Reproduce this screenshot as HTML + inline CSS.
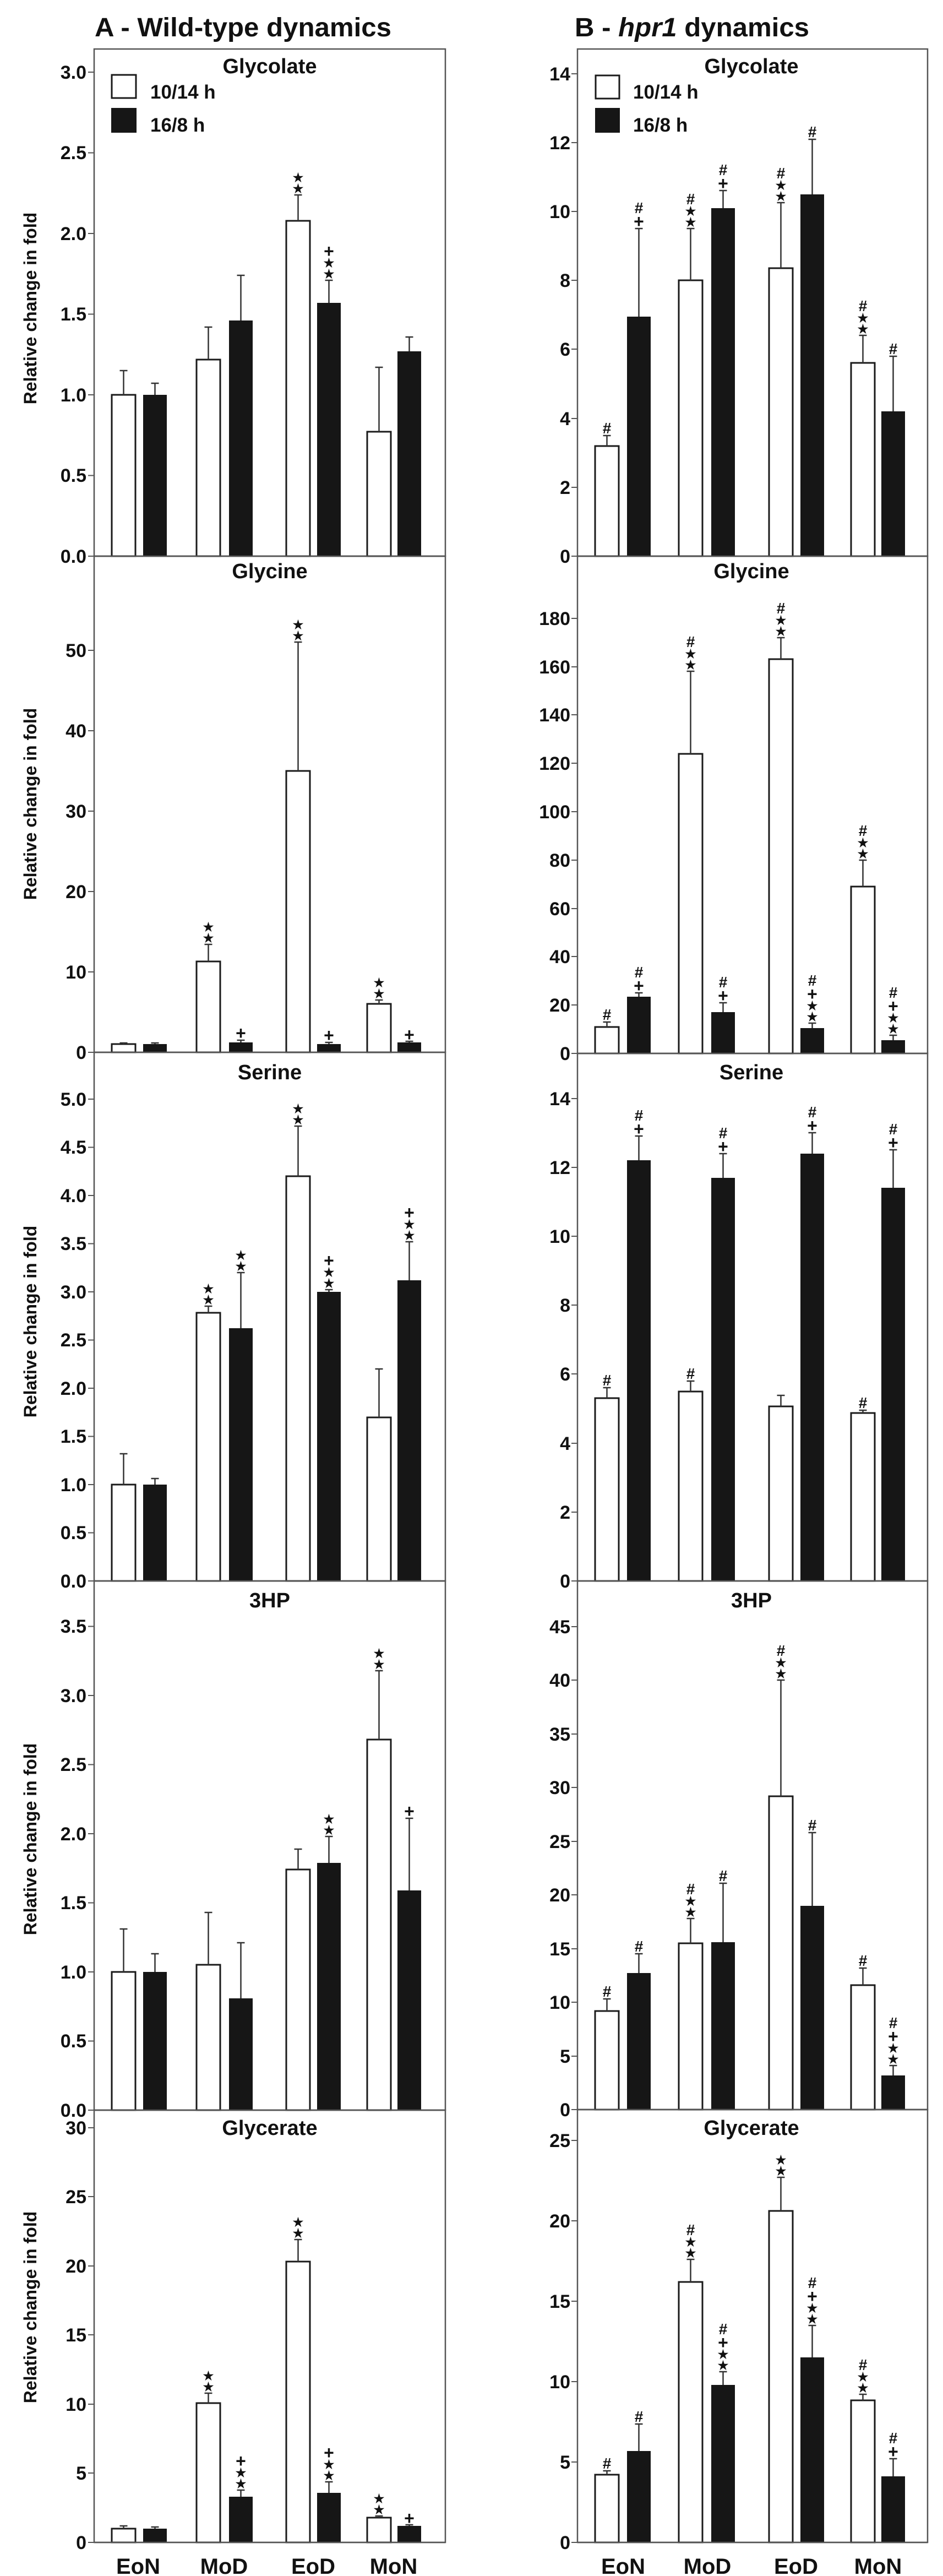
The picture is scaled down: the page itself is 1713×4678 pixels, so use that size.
<!DOCTYPE html>
<html><head><meta charset="utf-8"><style>
html,body{margin:0;padding:0;background:#fff}
svg{display:block}
.w{fill:#fff;stroke:#1a1a1a;stroke-width:3}
.b{fill:#161616}
.e{stroke:#333;stroke-width:2.5;fill:none}
.f{fill:none;stroke:#555;stroke-width:2.5}
.t{stroke:#555;stroke-width:2}
text{font-family:"Liberation Sans",Arial,sans-serif;font-weight:bold;fill:#111}
.tl{font-size:34px;text-anchor:end}
.pt{font-size:38px;text-anchor:middle}
.s{font-family:"DejaVu Sans",sans-serif;font-size:22px;text-anchor:middle;font-weight:normal}
.p{font-size:32px;text-anchor:middle}
.h{font-size:28px;text-anchor:middle}
.yl{font-size:32px;text-anchor:middle}
.xl{font-size:40px;text-anchor:middle}
</style></head><body>
<svg width="1713" height="4678" viewBox="0 0 1713 4678" xmlns="http://www.w3.org/2000/svg">
<rect width="1713" height="4678" fill="#fff"/>
<!-- titles -->
<text x="172" y="66" font-size="48" textLength="539" lengthAdjust="spacingAndGlyphs">A - Wild-type dynamics</text>
<text x="1044" y="66" font-size="48" textLength="426" lengthAdjust="spacingAndGlyphs">B - <tspan font-style="italic">hpr1</tspan> dynamics</text>

<!-- frames -->
<g class="f">
<rect x="171" y="89" width="638" height="921"/>
<rect x="171" y="1010" width="638" height="901"/>
<rect x="171" y="1911" width="638" height="960"/>
<rect x="171" y="2871" width="638" height="961"/>
<rect x="171" y="3832" width="638" height="785"/>
<rect x="1049" y="89" width="636" height="921"/>
<rect x="1049" y="1010" width="636" height="903"/>
<rect x="1049" y="1913" width="636" height="958"/>
<rect x="1049" y="2871" width="636" height="960"/>
<rect x="1049" y="3831" width="636" height="786"/>
</g>

<!-- y labels -->
<g class="yl">
<text transform="translate(66,560) rotate(-90)">Relative change in fold</text>
<text transform="translate(66,1460) rotate(-90)">Relative change in fold</text>
<text transform="translate(66,2400) rotate(-90)">Relative change in fold</text>
<text transform="translate(66,3340) rotate(-90)">Relative change in fold</text>
<text transform="translate(66,4190) rotate(-90)">Relative change in fold</text>
</g>

<!-- panel titles -->
<g class="pt">
<text x="490" y="133">Glycolate</text>
<text x="1365" y="133">Glycolate</text>
<text x="490" y="1050">Glycine</text>
<text x="1365" y="1050">Glycine</text>
<text x="490" y="1960">Serine</text>
<text x="1365" y="1960">Serine</text>
<text x="490" y="2919">3HP</text>
<text x="1365" y="2919">3HP</text>
<text x="490" y="3877">Glycerate</text>
<text x="1365" y="3877">Glycerate</text>
</g>

<!-- legends -->
<rect x="203" y="136" width="44" height="42" class="w"/>
<rect x="202" y="196" width="46" height="45" class="b"/>
<text x="273" y="179" font-size="35">10/14 h</text>
<text x="273" y="239" font-size="35">16/8 h</text>
<rect x="1082" y="137" width="43" height="42" class="w"/>
<rect x="1081" y="196" width="45" height="45" class="b"/>
<text x="1150" y="179" font-size="35">10/14 h</text>
<text x="1150" y="239" font-size="35">16/8 h</text>

<!-- ticks left -->
<g class="t">
<path d="M160,1010H171M160,863.5H171M160,717H171M160,570.5H171M160,424H171M160,277.5H171M160,131H171"/>
<path d="M160,1911H171M160,1765H171M160,1619H171M160,1473H171M160,1327H171M160,1181H171"/>
<path d="M160,2871H171M160,2783.5H171M160,2696H171M160,2608.5H171M160,2521H171M160,2433.5H171M160,2346H171M160,2258.5H171M160,2171H171M160,2083.5H171M160,1996H171"/>
<path d="M160,3832H171M160,3706.5H171M160,3581H171M160,3455.5H171M160,3330H171M160,3204.5H171M160,3079H171M160,2953.5H171"/>
<path d="M160,4617H171M160,4491H171M160,4366H171M160,4240H171M160,4115H171M160,3989H171M160,3864H171"/>
<path d="M1038,1010H1049M1038,885H1049M1038,760H1049M1038,634H1049M1038,509H1049M1038,384H1049M1038,259H1049M1038,134H1049"/>
<path d="M1038,1913H1049M1038,1825H1049M1038,1737H1049M1038,1650H1049M1038,1562H1049M1038,1474H1049M1038,1386H1049M1038,1298H1049M1038,1211H1049M1038,1123H1049"/>
<path d="M1038,2871H1049M1038,2746H1049M1038,2621H1049M1038,2495H1049M1038,2370H1049M1038,2245H1049M1038,2120H1049M1038,1995H1049"/>
<path d="M1038,3831H1049M1038,3734H1049M1038,3636H1049M1038,3539H1049M1038,3441H1049M1038,3344H1049M1038,3246H1049M1038,3149H1049M1038,3051H1049M1038,2954H1049"/>
<path d="M1038,4617H1049M1038,4471H1049M1038,4325H1049M1038,4179H1049M1038,4033H1049M1038,3887H1049"/>
</g>

<!-- tick labels left -->
<g class="tl">
<text x="157" y="1022">0.0</text><text x="157" y="875">0.5</text><text x="157" y="729">1.0</text><text x="157" y="582">1.5</text><text x="157" y="436">2.0</text><text x="157" y="289">2.5</text><text x="157" y="143">3.0</text>
<text x="157" y="1923">0</text><text x="157" y="1777">10</text><text x="157" y="1631">20</text><text x="157" y="1485">30</text><text x="157" y="1339">40</text><text x="157" y="1193">50</text>
<text x="157" y="2883">0.0</text><text x="157" y="2795">0.5</text><text x="157" y="2708">1.0</text><text x="157" y="2620">1.5</text><text x="157" y="2533">2.0</text><text x="157" y="2445">2.5</text><text x="157" y="2358">3.0</text><text x="157" y="2270">3.5</text><text x="157" y="2183">4.0</text><text x="157" y="2095">4.5</text><text x="157" y="2008">5.0</text>
<text x="157" y="3844">0.0</text><text x="157" y="3718">0.5</text><text x="157" y="3593">1.0</text><text x="157" y="3467">1.5</text><text x="157" y="3342">2.0</text><text x="157" y="3216">2.5</text><text x="157" y="3091">3.0</text><text x="157" y="2965">3.5</text>
<text x="157" y="4629">0</text><text x="157" y="4503">5</text><text x="157" y="4378">10</text><text x="157" y="4252">15</text><text x="157" y="4127">20</text><text x="157" y="4001">25</text><text x="157" y="3876">30</text>
<!-- right -->
<text x="1036" y="1022">0</text><text x="1036" y="897">2</text><text x="1036" y="772">4</text><text x="1036" y="646">6</text><text x="1036" y="521">8</text><text x="1036" y="396">10</text><text x="1036" y="271">12</text><text x="1036" y="146">14</text>
<text x="1036" y="1925">0</text><text x="1036" y="1837">20</text><text x="1036" y="1749">40</text><text x="1036" y="1662">60</text><text x="1036" y="1574">80</text><text x="1036" y="1486">100</text><text x="1036" y="1398">120</text><text x="1036" y="1310">140</text><text x="1036" y="1223">160</text><text x="1036" y="1135">180</text>
<text x="1036" y="2883">0</text><text x="1036" y="2758">2</text><text x="1036" y="2633">4</text><text x="1036" y="2507">6</text><text x="1036" y="2382">8</text><text x="1036" y="2257">10</text><text x="1036" y="2132">12</text><text x="1036" y="2007">14</text>
<text x="1036" y="3843">0</text><text x="1036" y="3746">5</text><text x="1036" y="3648">10</text><text x="1036" y="3551">15</text><text x="1036" y="3453">20</text><text x="1036" y="3356">25</text><text x="1036" y="3258">30</text><text x="1036" y="3161">35</text><text x="1036" y="3063">40</text><text x="1036" y="2966">45</text>
<text x="1036" y="4629">0</text><text x="1036" y="4483">5</text><text x="1036" y="4337">10</text><text x="1036" y="4191">15</text><text x="1036" y="4045">20</text><text x="1036" y="3899">25</text>
</g>

<!-- ===== GLYCOLATE LEFT (y0 1010) ===== -->
<rect class="w" x="203" y="717" width="43" height="293"/>
<rect class="b" x="260" y="717" width="43" height="293"/>
<rect class="w" x="357" y="653" width="43" height="357"/>
<rect class="b" x="416" y="582" width="43" height="428"/>
<rect class="w" x="520" y="401" width="43" height="609"/>
<rect class="b" x="576" y="550" width="43" height="460"/>
<rect class="w" x="667" y="784" width="43" height="226"/>
<rect class="b" x="722" y="638" width="43" height="372"/>
<path class="e" d="M224.5,717V673M217.5,673H231.5 M281.5,717V696M274.5,696H288.5 M378.5,653V594M371.5,594H385.5 M437.5,582V500M430.5,500H444.5 M541.5,401V354M534.5,354H548.5 M597.5,550V509M590.5,509H604.5 M688.5,784V667M681.5,667H695.5 M743.5,638V612M736.5,612H750.5"/>

<!-- ===== GLYCOLATE RIGHT ===== -->
<rect class="w" x="1081" y="810" width="43" height="200"/>
<rect class="b" x="1139" y="575" width="43" height="435"/>
<rect class="w" x="1233" y="509" width="43" height="501"/>
<rect class="b" x="1292" y="378" width="43" height="632"/>
<rect class="w" x="1397" y="487" width="43" height="523"/>
<rect class="b" x="1454" y="353" width="43" height="657"/>
<rect class="w" x="1546" y="659" width="43" height="351"/>
<rect class="b" x="1601" y="747" width="43" height="263"/>
<path class="e" d="M1102.5,810V791M1095.5,791H1109.5 M1160.5,575V415M1153.5,415H1167.5 M1254.5,509V415M1247.5,415H1261.5 M1313.5,378V346M1306.5,346H1320.5 M1418.5,487V368M1411.5,368H1425.5 M1475.5,353V253M1468.5,253H1482.5 M1567.5,659V609M1560.5,609H1574.5 M1622.5,747V647M1615.5,647H1629.5"/>

<!-- ===== GLYCINE LEFT (y0 1911) ===== -->
<rect class="w" x="203" y="1896" width="43" height="15"/>
<rect class="b" x="260" y="1896" width="43" height="15"/>
<rect class="w" x="357" y="1746" width="43" height="165"/>
<rect class="b" x="416" y="1893" width="43" height="18"/>
<rect class="w" x="520" y="1400" width="43" height="511"/>
<rect class="b" x="576" y="1896" width="43" height="15"/>
<rect class="w" x="667" y="1823" width="43" height="88"/>
<rect class="b" x="722" y="1893" width="43" height="18"/>
<path class="e" d="M224.5,1896V1894M217.5,1894H231.5 M281.5,1896V1894M274.5,1894H288.5 M378.5,1746V1715M371.5,1715H385.5 M437.5,1893V1889M430.5,1889H444.5 M541.5,1400V1166M534.5,1166H548.5 M597.5,1896V1893M590.5,1893H604.5 M688.5,1823V1816M681.5,1816H695.5 M743.5,1893V1891M736.5,1891H750.5"/>

<!-- ===== GLYCINE RIGHT (y0 1913) ===== -->
<rect class="w" x="1081" y="1865" width="43" height="48"/>
<rect class="b" x="1139" y="1810" width="43" height="103"/>
<rect class="w" x="1233" y="1369" width="43" height="544"/>
<rect class="b" x="1292" y="1838" width="43" height="75"/>
<rect class="w" x="1397" y="1197" width="43" height="716"/>
<rect class="b" x="1454" y="1867" width="43" height="46"/>
<rect class="w" x="1546" y="1610" width="43" height="303"/>
<rect class="b" x="1601" y="1889" width="43" height="24"/>
<path class="e" d="M1102.5,1865V1856M1095.5,1856H1109.5 M1160.5,1810V1803M1153.5,1803H1167.5 M1254.5,1369V1219M1247.5,1219H1261.5 M1313.5,1838V1821M1306.5,1821H1320.5 M1418.5,1197V1158M1411.5,1158H1425.5 M1475.5,1867V1858M1468.5,1858H1482.5 M1567.5,1610V1562M1560.5,1562H1574.5 M1622.5,1889V1880M1615.5,1880H1629.5"/>

<!-- ===== SERINE LEFT (y0 2871) ===== -->
<rect class="w" x="203" y="2696" width="43" height="175"/>
<rect class="b" x="260" y="2696" width="43" height="175"/>
<rect class="w" x="357" y="2384" width="43" height="487"/>
<rect class="b" x="416" y="2412" width="43" height="459"/>
<rect class="w" x="520" y="2136" width="43" height="735"/>
<rect class="b" x="576" y="2346" width="43" height="525"/>
<rect class="w" x="667" y="2574" width="43" height="297"/>
<rect class="b" x="722" y="2325" width="43" height="546"/>
<path class="e" d="M224.5,2696V2640M217.5,2640H231.5 M281.5,2696V2685M274.5,2685H288.5 M378.5,2384V2372M371.5,2372H385.5 M437.5,2412V2311M430.5,2311H444.5 M541.5,2136V2045M534.5,2045H548.5 M597.5,2346V2342M590.5,2342H604.5 M688.5,2574V2486M681.5,2486H695.5 M743.5,2325V2255M736.5,2255H750.5"/>

<!-- ===== SERINE RIGHT ===== -->
<rect class="w" x="1081" y="2539" width="43" height="332"/>
<rect class="b" x="1139" y="2107" width="43" height="764"/>
<rect class="w" x="1233" y="2527" width="43" height="344"/>
<rect class="b" x="1292" y="2139" width="43" height="732"/>
<rect class="w" x="1397" y="2554" width="43" height="317"/>
<rect class="b" x="1454" y="2095" width="43" height="776"/>
<rect class="w" x="1546" y="2566" width="43" height="305"/>
<rect class="b" x="1601" y="2157" width="43" height="714"/>
<path class="e" d="M1102.5,2539V2520M1095.5,2520H1109.5 M1160.5,2107V2063M1153.5,2063H1167.5 M1254.5,2527V2508M1247.5,2508H1261.5 M1313.5,2139V2095M1306.5,2095H1320.5 M1418.5,2554V2534M1411.5,2534H1425.5 M1475.5,2095V2057M1468.5,2057H1482.5 M1567.5,2566V2561M1560.5,2561H1574.5 M1622.5,2157V2088M1615.5,2088H1629.5"/>

<!-- ===== 3HP LEFT (y0 3832) ===== -->
<rect class="w" x="203" y="3581" width="43" height="251"/>
<rect class="b" x="260" y="3581" width="43" height="251"/>
<rect class="w" x="357" y="3568" width="43" height="264"/>
<rect class="b" x="416" y="3629" width="43" height="203"/>
<rect class="w" x="520" y="3395" width="43" height="437"/>
<rect class="b" x="576" y="3383" width="43" height="449"/>
<rect class="w" x="667" y="3159" width="43" height="673"/>
<rect class="b" x="722" y="3433" width="43" height="399"/>
<path class="e" d="M224.5,3581V3503M217.5,3503H231.5 M281.5,3581V3548M274.5,3548H288.5 M378.5,3568V3473M371.5,3473H385.5 M437.5,3629V3528M430.5,3528H444.5 M541.5,3395V3358M534.5,3358H548.5 M597.5,3383V3335M590.5,3335H604.5 M688.5,3159V3034M681.5,3034H695.5 M743.5,3433V3302M736.5,3302H750.5"/>

<!-- ===== 3HP RIGHT (y0 3831) ===== -->
<rect class="w" x="1081" y="3652" width="43" height="179"/>
<rect class="b" x="1139" y="3583" width="43" height="248"/>
<rect class="w" x="1233" y="3529" width="43" height="302"/>
<rect class="b" x="1292" y="3527" width="43" height="304"/>
<rect class="w" x="1397" y="3262" width="43" height="569"/>
<rect class="b" x="1454" y="3461" width="43" height="370"/>
<rect class="w" x="1546" y="3605" width="43" height="226"/>
<rect class="b" x="1601" y="3769" width="43" height="62"/>
<path class="e" d="M1102.5,3652V3630M1095.5,3630H1109.5 M1160.5,3583V3548M1153.5,3548H1167.5 M1254.5,3529V3484M1247.5,3484H1261.5 M1313.5,3527V3420M1306.5,3420H1320.5 M1418.5,3262V3051M1411.5,3051H1425.5 M1475.5,3461V3328M1468.5,3328H1482.5 M1567.5,3605V3574M1560.5,3574H1574.5 M1622.5,3769V3751M1615.5,3751H1629.5"/>

<!-- ===== GLYCERATE LEFT (y0 4617) ===== -->
<rect class="w" x="203" y="4592" width="43" height="25"/>
<rect class="b" x="260" y="4592" width="43" height="25"/>
<rect class="w" x="357" y="4364" width="43" height="253"/>
<rect class="b" x="416" y="4534" width="43" height="83"/>
<rect class="w" x="520" y="4107" width="43" height="510"/>
<rect class="b" x="576" y="4527" width="43" height="90"/>
<rect class="w" x="667" y="4572" width="43" height="45"/>
<rect class="b" x="722" y="4587" width="43" height="30"/>
<path class="e" d="M224.5,4592V4587M217.5,4587H231.5 M281.5,4592V4589M274.5,4589H288.5 M378.5,4364V4346M371.5,4346H385.5 M437.5,4534V4522M430.5,4522H444.5 M541.5,4107V4067M534.5,4067H548.5 M597.5,4527V4507M590.5,4507H604.5 M688.5,4572V4569M681.5,4569H695.5 M743.5,4587V4585M736.5,4585H750.5"/>

<!-- ===== GLYCERATE RIGHT ===== -->
<rect class="w" x="1081" y="4494" width="43" height="123"/>
<rect class="b" x="1139" y="4451" width="43" height="166"/>
<rect class="w" x="1233" y="4144" width="43" height="473"/>
<rect class="b" x="1292" y="4331" width="43" height="286"/>
<rect class="w" x="1397" y="4015" width="43" height="602"/>
<rect class="b" x="1454" y="4281" width="43" height="336"/>
<rect class="w" x="1546" y="4359" width="43" height="258"/>
<rect class="b" x="1601" y="4497" width="43" height="120"/>
<path class="e" d="M1102.5,4494V4487M1095.5,4487H1109.5 M1160.5,4451V4402M1153.5,4402H1167.5 M1254.5,4144V4103M1247.5,4103H1261.5 M1313.5,4331V4307M1306.5,4307H1320.5 M1418.5,4015V3954M1411.5,3954H1425.5 M1475.5,4281V4223M1468.5,4223H1482.5 M1567.5,4359V4348M1560.5,4348H1574.5 M1622.5,4497V4465M1615.5,4465H1629.5"/>

<!-- redraw frame bottoms over bars -->
<g class="f">
<path d="M171,1010H809M171,1911H809M171,2871H809M171,3832H809M171,4617H809"/>
<path d="M1049,1010H1685M1049,1913H1685M1049,2871H1685M1049,3831H1685M1049,4617H1685"/>
</g>

<!-- ===== ANNOTATIONS ===== -->
<g class="s">
<!-- glycolate L -->
<text x="541.5" y="350">★</text><text x="541.5" y="330">★</text>
<text x="597.5" y="505">★</text><text x="597.5" y="485">★</text>
<!-- glycolate R -->
<text x="1254.5" y="411">★</text><text x="1254.5" y="391">★</text>
<text x="1418.5" y="364">★</text><text x="1418.5" y="344">★</text>
<text x="1567.5" y="605">★</text><text x="1567.5" y="585">★</text>
<!-- glycine L -->
<text x="378.5" y="1711">★</text><text x="378.5" y="1691">★</text>
<text x="541.5" y="1162">★</text><text x="541.5" y="1142">★</text>
<text x="688.5" y="1812">★</text><text x="688.5" y="1792">★</text>
<!-- glycine R -->
<text x="1254.5" y="1215">★</text><text x="1254.5" y="1195">★</text>
<text x="1418.5" y="1154">★</text><text x="1418.5" y="1134">★</text>
<text x="1475.5" y="1854">★</text><text x="1475.5" y="1834">★</text>
<text x="1567.5" y="1558">★</text><text x="1567.5" y="1538">★</text>
<text x="1622.5" y="1876">★</text><text x="1622.5" y="1856">★</text>
<!-- serine L -->
<text x="378.5" y="2368">★</text><text x="378.5" y="2348">★</text>
<text x="437.5" y="2307">★</text><text x="437.5" y="2287">★</text>
<text x="541.5" y="2041">★</text><text x="541.5" y="2021">★</text>
<text x="597.5" y="2338">★</text><text x="597.5" y="2318">★</text>
<text x="743.5" y="2251">★</text><text x="743.5" y="2231">★</text>
<!-- 3HP L -->
<text x="597.5" y="3331">★</text><text x="597.5" y="3311">★</text>
<text x="688.5" y="3030">★</text><text x="688.5" y="3010">★</text>
<!-- 3HP R -->
<text x="1254.5" y="3480">★</text><text x="1254.5" y="3460">★</text>
<text x="1418.5" y="3047">★</text><text x="1418.5" y="3027">★</text>
<text x="1622.5" y="3747">★</text><text x="1622.5" y="3727">★</text>
<!-- glycerate L -->
<text x="378.5" y="4342">★</text><text x="378.5" y="4322">★</text>
<text x="437.5" y="4518">★</text><text x="437.5" y="4498">★</text>
<text x="541.5" y="4063">★</text><text x="541.5" y="4043">★</text>
<text x="597.5" y="4503">★</text><text x="597.5" y="4483">★</text>
<text x="688.5" y="4565">★</text><text x="688.5" y="4545">★</text>
<!-- glycerate R -->
<text x="1254.5" y="4099">★</text><text x="1254.5" y="4079">★</text>
<text x="1313.5" y="4303">★</text><text x="1313.5" y="4283">★</text>
<text x="1418.5" y="3950">★</text><text x="1418.5" y="3930">★</text>
<text x="1475.5" y="4219">★</text><text x="1475.5" y="4199">★</text>
<text x="1567.5" y="4344">★</text><text x="1567.5" y="4324">★</text>
</g>
<g class="p">
<text x="597.5" y="467">+</text>
<text x="1160.5" y="413">+</text><text x="1313.5" y="344">+</text>
<text x="437.5" y="1887">+</text><text x="597.5" y="1891">+</text><text x="743.5" y="1890">+</text>
<text x="1160.5" y="1801">+</text><text x="1313.5" y="1819">+</text><text x="1475.5" y="1816">+</text><text x="1622.5" y="1838">+</text>
<text x="597.5" y="2300">+</text><text x="743.5" y="2213">+</text>
<text x="1160.5" y="2061">+</text><text x="1313.5" y="2093">+</text><text x="1475.5" y="2055">+</text><text x="1622.5" y="2086">+</text>
<text x="743.5" y="3300">+</text><text x="1622.5" y="3709">+</text>
<text x="437.5" y="4480">+</text><text x="597.5" y="4465">+</text><text x="743.5" y="4584">+</text>
<text x="1313.5" y="4265">+</text><text x="1475.5" y="4181">+</text><text x="1622.5" y="4463">+</text>
</g>
<g class="h">
<text x="1102.5" y="787">#</text><text x="1160.5" y="387">#</text><text x="1254.5" y="371">#</text><text x="1313.5" y="318">#</text><text x="1418.5" y="324">#</text><text x="1475.5" y="249">#</text><text x="1567.5" y="565">#</text><text x="1622.5" y="643">#</text>
<text x="1102.5" y="1852">#</text><text x="1160.5" y="1775">#</text><text x="1254.5" y="1175">#</text><text x="1313.5" y="1793">#</text><text x="1418.5" y="1114">#</text><text x="1475.5" y="1790">#</text><text x="1567.5" y="1518">#</text><text x="1622.5" y="1812">#</text>
<text x="1102.5" y="2516">#</text><text x="1160.5" y="2035">#</text><text x="1254.5" y="2504">#</text><text x="1313.5" y="2067">#</text><text x="1475.5" y="2029">#</text><text x="1567.5" y="2557">#</text><text x="1622.5" y="2060">#</text>
<text x="1102.5" y="3626">#</text><text x="1160.5" y="3544">#</text><text x="1254.5" y="3440">#</text><text x="1313.5" y="3416">#</text><text x="1418.5" y="3007">#</text><text x="1475.5" y="3324">#</text><text x="1567.5" y="3570">#</text><text x="1622.5" y="3683">#</text>
<text x="1102.5" y="4483">#</text><text x="1160.5" y="4398">#</text><text x="1254.5" y="4059">#</text><text x="1313.5" y="4239">#</text><text x="1475.5" y="4155">#</text><text x="1567.5" y="4304">#</text><text x="1622.5" y="4437">#</text>
</g>

<!-- x labels -->
<g class="xl">
<text x="251" y="4674">EoN</text><text x="407" y="4674">MoD</text><text x="569" y="4674">EoD</text><text x="715" y="4674">MoN</text>
<text x="1132" y="4674">EoN</text><text x="1285" y="4674">MoD</text><text x="1446" y="4674">EoD</text><text x="1595" y="4674">MoN</text>
</g>
</svg>
</body></html>
